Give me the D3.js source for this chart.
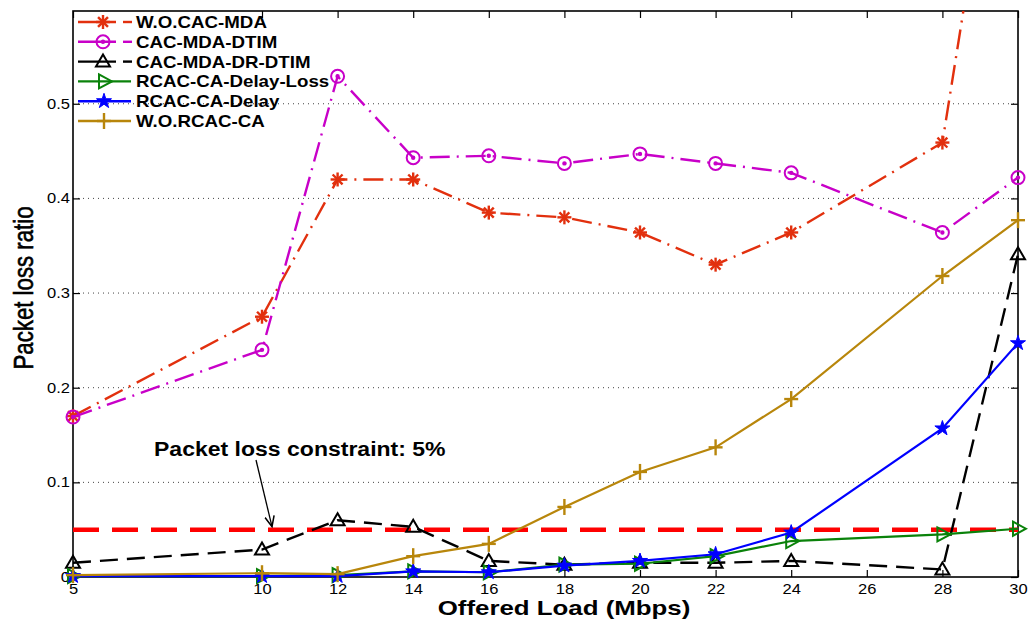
<!DOCTYPE html>
<html>
<head>
<meta charset="utf-8">
<script src="https://cdn.jsdelivr.net/npm/d3@7"></script>
<style>
  html, body { margin: 0; padding: 0; background: #fff; }
  svg { display: block; font-family: "Liberation Sans", Arial, sans-serif; }
</style>
</head>
<body>
<svg id="chart" width="1032" height="622"></svg>
<script>
// Offered load (Mbps) at each measurement point
const loads = [5, 10, 12, 14, 16, 18, 20, 22, 24, 28, 30];
const xTickValues = [5, 10, 12, 14, 16, 18, 20, 22, 24, 26, 28, 30];
const yTickValues = [0, 0.1, 0.2, 0.3, 0.4, 0.5];

// Packet loss ratio per scheme
const woCacMda      = [0.170, 0.275, 0.420, 0.420, 0.385, 0.380, 0.364, 0.330, 0.364, 0.459, 0.960];
const cacMdaDtim    = [0.169, 0.240, 0.529, 0.443, 0.445, 0.437, 0.447, 0.437, 0.427, 0.364, 0.422];
const cacMdaDrDtim  = [0.015, 0.029, 0.060, 0.053, 0.017, 0.013, 0.015, 0.015, 0.017, 0.008, 0.341];
const rcacDelayLoss = [0.001, 0.001, 0.002, 0.006, 0.005, 0.013, 0.014, 0.022, 0.038, 0.045, 0.051];
const rcacDelay     = [0.001, 0.001, 0.001, 0.006, 0.005, 0.012, 0.017, 0.024, 0.047, 0.157, 0.247];
const woRcacCa      = [0.002, 0.004, 0.003, 0.022, 0.035, 0.074, 0.111, 0.137, 0.188, 0.318, 0.377];

const constraintLevel = 0.05;

const series = [
  { name: "W.O.CAC-MDA",         values: woCacMda,      color: "#e2300e", dash: "20,7,2,7", marker: "asterisk" },
  { name: "CAC-MDA-DTIM",        values: cacMdaDtim,    color: "#c800c8", dash: "20,7,2,7", marker: "circle" },
  { name: "CAC-MDA-DR-DTIM",     values: cacMdaDrDtim,  color: "#000000", dash: "18,9",     marker: "triangle" },
  { name: "RCAC-CA-Delay-Loss",  values: rcacDelayLoss, color: "#0a820a", dash: null,       marker: "rtriangle" },
  { name: "RCAC-CA-Delay",       values: rcacDelay,     color: "#0000ff", dash: null,       marker: "star" },
  { name: "W.O.RCAC-CA",         values: woRcacCa,      color: "#b8860b", dash: null,       marker: "plus" }
];

const svg = d3.select("#chart");
const margin = { left: 73, right: 14, top: 11, bottom: 45 };
const W = 1032, H = 622;
const x = d3.scaleLinear().domain([5, 30]).range([margin.left, W - margin.right]);
const y = d3.scaleLinear().domain([0, 0.598]).range([H - margin.bottom, margin.top]);

const x0 = x.range()[0], x1 = x.range()[1];
const yb = y.range()[0], yt = y.range()[1];

// scale a text's advance length by k (k > 1 widens, k < 1 condenses)
function fitLength(sel, k) {
  sel.each(function () {
    const w = this.getComputedTextLength();
    if (w > 0) {
      this.setAttribute("textLength", w * k);
      this.setAttribute("lengthAdjust", "spacingAndGlyphs");
    }
  });
}

// dotted horizontal grid
svg.append("g")
  .selectAll("line")
  .data(yTickValues.filter(v => v > 0))
  .join("line")
  .attr("x1", x0).attr("x2", x1)
  .attr("y1", d => y(d)).attr("y2", d => y(d))
  .attr("stroke", "#444").attr("stroke-width", 1)
  .attr("stroke-dasharray", "1,4");

// axes
const xAxis = svg.append("g")
  .attr("transform", `translate(0,${yb})`)
  .call(d3.axisBottom(x).tickValues(xTickValues).tickSize(-7).tickPadding(7).tickFormat(d3.format("d")));
const xAxisTop = svg.append("g")
  .attr("transform", `translate(0,${yt})`)
  .call(d3.axisTop(x).tickValues(xTickValues).tickSize(-7).tickFormat(""));
const yAxis = svg.append("g")
  .attr("transform", `translate(${x0},0)`)
  .call(d3.axisLeft(y).tickValues(yTickValues).tickSize(-7).tickPadding(3)
    .tickFormat(d => d === 0 ? "0" : d3.format(".1f")(d)));
const yAxisRight = svg.append("g")
  .attr("transform", `translate(${x1},0)`)
  .call(d3.axisRight(y).tickValues(yTickValues).tickSize(-7).tickFormat(""));

[xAxis, xAxisTop, yAxis, yAxisRight].forEach(g => {
  g.select(".domain").remove();
  g.selectAll(".tick line").attr("stroke", "#000").attr("stroke-width", 1.2);
  g.selectAll("text").attr("font-size", 14).attr("fill", "#000")
    .attr("font-family", "'Liberation Sans', Arial, sans-serif");
});
xAxis.selectAll("text").attr("dy", "0.71em");
fitLength(xAxis.selectAll("text"), 1.18);
fitLength(yAxis.selectAll("text"), 1.18);

// plot frame
svg.append("rect")
  .attr("x", x0).attr("y", yt)
  .attr("width", x1 - x0).attr("height", yb - yt)
  .attr("fill", "none").attr("stroke", "#000").attr("stroke-width", 1.6);

svg.append("clipPath").attr("id", "plot-clip")
  .append("rect").attr("x", x0 - 10).attr("y", yt).attr("width", x1 - x0 + 20).attr("height", yb - yt + 10);

const plot = svg.append("g").attr("clip-path", "url(#plot-clip)");

// 5% packet loss constraint
plot.append("line")
  .attr("x1", x(5)).attr("x2", x(30))
  .attr("y1", y(constraintLevel)).attr("y2", y(constraintLevel))
  .attr("stroke", "#ff0000").attr("stroke-width", 4.5)
  .attr("stroke-dasharray", "26,13");

const line = d3.line().x(d => x(d[0])).y(d => y(d[1]));

function drawMarker(g, type, cx, cy, color) {
  const m = g.append("g").attr("transform", `translate(${cx},${cy})`)
    .attr("fill", "none").attr("stroke", color).attr("stroke-width", 2);
  if (type === "asterisk") {
    const r = 7;
    [0, 45, 90, 135].forEach(a => {
      const rad = a * Math.PI / 180;
      m.append("line")
        .attr("x1", -r * Math.cos(rad)).attr("y1", -r * Math.sin(rad))
        .attr("x2", r * Math.cos(rad)).attr("y2", r * Math.sin(rad))
        .attr("stroke-width", 2.4);
    });
  } else if (type === "circle") {
    m.append("circle").attr("r", 6.5);
    m.append("circle").attr("r", 1.2).attr("fill", color);
  } else if (type === "triangle") {
    m.append("path").attr("d", "M0,-7 L7,5 L-7,5 Z");
  } else if (type === "rtriangle") {
    m.append("path").attr("d", "M-5,-7 L8,0 L-5,7 Z");
  } else if (type === "star") {
    m.append("path").attr("d", d3.symbol().type(d3.symbolStar).size(70)())
      .attr("fill", color).attr("stroke-width", 1);
  } else if (type === "plus") {
    m.append("line").attr("x1", -7).attr("x2", 7).attr("stroke-width", 2.4);
    m.append("line").attr("y1", -8).attr("y2", 8).attr("stroke-width", 2.4);
  }
}

// series lines and markers
series.forEach(s => {
  const pts = loads.map((l, i) => [l, s.values[i]]);
  plot.append("path")
    .datum(pts)
    .attr("d", line)
    .attr("fill", "none")
    .attr("stroke", s.color)
    .attr("stroke-width", s.dash ? 2.4 : 2.2)
    .attr("stroke-dasharray", s.dash);
  pts.forEach(p => {
    if (p[1] <= y.domain()[1]) drawMarker(plot, s.marker, x(p[0]), y(p[1]), s.color);
  });
});

// legend
const legend = svg.append("g");
series.forEach((s, i) => {
  const ly = 22 + i * 19.8;
  const row = legend.append("g");
  if (s.dash) {
    row.append("line").attr("x1", 78).attr("x2", 116).attr("y1", ly).attr("y2", ly)
      .attr("stroke", s.color).attr("stroke-width", 2.4);
    row.append("line").attr("x1", 123).attr("x2", 132).attr("y1", ly).attr("y2", ly)
      .attr("stroke", s.color).attr("stroke-width", 2.4);
    drawMarker(row, s.marker, 103, ly, s.color);
  } else {
    row.append("line").attr("x1", 78).attr("x2", 131).attr("y1", ly).attr("y2", ly)
      .attr("stroke", s.color).attr("stroke-width", 2.4);
    drawMarker(row, s.marker, 104, ly, s.color);
  }
  row.append("text")
    .attr("x", 136).attr("y", ly + 6)
    .attr("font-size", 17).attr("font-weight", "bold")
    .attr("fill", "#000")
    .text(s.name);
});
fitLength(legend.selectAll("text"), 1.1);

// constraint annotation
svg.append("defs").append("marker")
  .attr("id", "arrowhead").attr("viewBox", "0 0 10 10")
  .attr("refX", 9).attr("refY", 5)
  .attr("markerWidth", 9).attr("markerHeight", 9)
  .attr("orient", "auto-start-reverse")
  .append("path").attr("d", "M0,1 L9,5 L0,9").attr("fill", "none").attr("stroke", "#000").attr("stroke-width", 1.3);

const note = svg.append("text")
  .attr("x", 154).attr("y", 456)
  .attr("font-size", 19.5).attr("font-weight", "bold").attr("fill", "#000")
  .text("Packet loss constraint: 5%");
fitLength(note, 1.18);

svg.append("line")
  .attr("x1", x(10) - 6).attr("y1", 460)
  .attr("x2", x(10) + 10).attr("y2", y(constraintLevel) - 3)
  .attr("stroke", "#000").attr("stroke-width", 1.3)
  .attr("marker-end", "url(#arrowhead)");

// axis titles
const xTitle = svg.append("text")
  .attr("x", 564).attr("y", 615)
  .attr("text-anchor", "middle")
  .attr("font-size", 21).attr("font-weight", "bold").attr("fill", "#000")
  .text("Offered Load (Mbps)");
fitLength(xTitle, 1.23);

// y title is set tall and narrow
const yTitle = svg.append("text")
  .attr("transform", `translate(33,288) rotate(-90)`)
  .attr("text-anchor", "middle")
  .attr("font-size", 28).attr("font-weight", "normal").attr("fill", "#000")
  .attr("stroke", "#000").attr("stroke-width", 0.6)
  .text("Packet loss ratio");
yTitle.attr("textLength", 163).attr("lengthAdjust", "spacingAndGlyphs");
</script>
</body>
</html>
